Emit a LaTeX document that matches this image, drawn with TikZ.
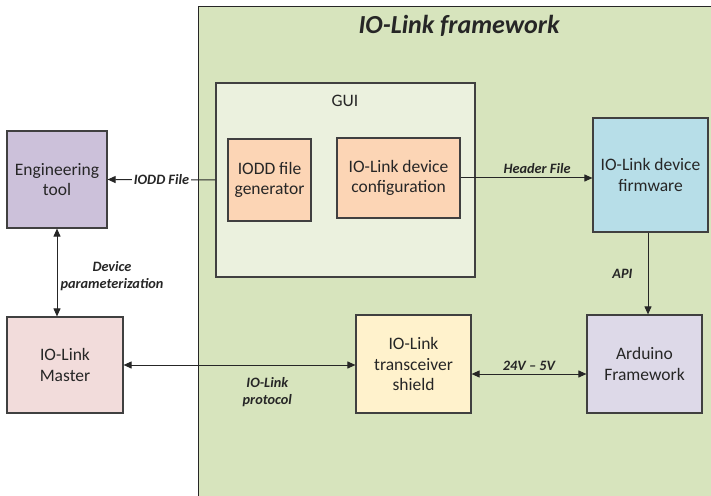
\documentclass[tikz,border=0pt]{standalone}
\usepackage{fontspec}
\setmainfont{Carlito}
\usetikzlibrary{arrows.meta}
\definecolor{fwfill}{HTML}{D7E4BD}
\definecolor{guifill}{HTML}{EBF1DE}
\definecolor{orangefill}{HTML}{FCD5B5}
\definecolor{bluefill}{HTML}{B7DEE8}
\definecolor{engfill}{HTML}{CCC1DA}
\definecolor{masterfill}{HTML}{F2DCDB}
\definecolor{shieldfill}{HTML}{FFF2CC}
\definecolor{ardfill}{HTML}{DDD9E8}
\definecolor{edge}{HTML}{404040}
\definecolor{ink}{HTML}{262626}
\tikzset{
  box/.style={draw=edge, line width=1.2bp, align=center, inner sep=2bp,
    font=\fontsize{17.5bp}{20.7bp}\selectfont, text=ink},
  conn/.style={draw=ink, line width=1bp, -{Triangle[length=8bp,width=7bp]}},
  biconn/.style={draw=ink, line width=1bp, {Triangle[length=8bp,width=7bp]}-{Triangle[length=8bp,width=7bp]}},
  lbl/.style={font=\fontsize{14.3bp}{17bp}\selectfont\bfseries\itshape, text=ink, align=center, inner sep=1bp}
}
\begin{document}
\begin{tikzpicture}[x=1bp,y=-1bp]
\useasboundingbox (0,0) rectangle (711,496);
\clip (0,0) rectangle (711,496);
\fill[white] (0,0) rectangle (711,496);
% framework area
\node[draw=ink, fill=fwfill, line width=1.2bp, minimum width=530bp, minimum height=510bp, anchor=north west, inner sep=0pt] (fw) at (198,6) {};
\node[font=\fontsize{26bp}{30bp}\selectfont\bfseries\itshape, text=ink] (title) at (459,26) {IO-Link framework};
% GUI
\node[box, fill=guifill, minimum width=259bp, minimum height=194bp] (gui) at (345.5,180) {};
\node[font=\fontsize{17.5bp}{20bp}\selectfont, text=ink] (guil) at (345,101) {GUI};
\node[box, fill=orangefill, minimum width=83bp, minimum height=82bp] (iodd) at (269.5,180) {IODD file\\generator};
\node[box, fill=orangefill, minimum width=123bp, minimum height=80bp] (cfg) at (398.5,178) {IO-Link device\\configuration};
% other boxes
\node[box, fill=engfill, minimum width=100bp, minimum height=97bp] (eng) at (57,179.5) {Engineering\\tool};
\node[box, fill=bluefill, minimum width=115bp, minimum height=114bp] (fwm) at (650.5,175) {IO-Link device\\firmware};
\node[box, fill=ardfill, minimum width=115bp, minimum height=98bp] (ard) at (644.5,364) {Arduino\\Framework};
\node[box, fill=shieldfill, minimum width=115bp, minimum height=98bp] (sh) at (413.5,364) {IO-Link\\transceiver\\shield};
\node[box, fill=masterfill, minimum width=116bp, minimum height=96bp] (mst) at (65,365) {IO-Link\\Master};
% connectors
\draw[conn] (gui.west) -- node[lbl, fill=white, inner xsep=2bp] {IODD File} (eng.east);
\draw[conn] (cfg.east) -- node[lbl, pos=0.58, above=3bp] {Header File} (cfg.east -| fwm.west);
\coordinate (apitop) at ([xshift=-2.5bp]fwm.south);
\draw[conn] (apitop) -- node[lbl, left=14bp] {API} (apitop |- ard.north);
\draw[biconn] (eng.south) -- node[lbl, right=0bp, xshift=2bp, yshift=-4bp] {Device\\parameterization} (eng.south |- mst.north);
\draw[biconn] (mst.east) -- node[lbl, pos=0.62, below=11bp] {IO-Link\\protocol} (mst.east -| sh.west);
\draw[biconn] ([yshift=-10bp]sh.east) -- node[lbl, above=2bp] {24V -- 5V} ([yshift=-10bp]ard.west);
\end{tikzpicture}
\end{document}
